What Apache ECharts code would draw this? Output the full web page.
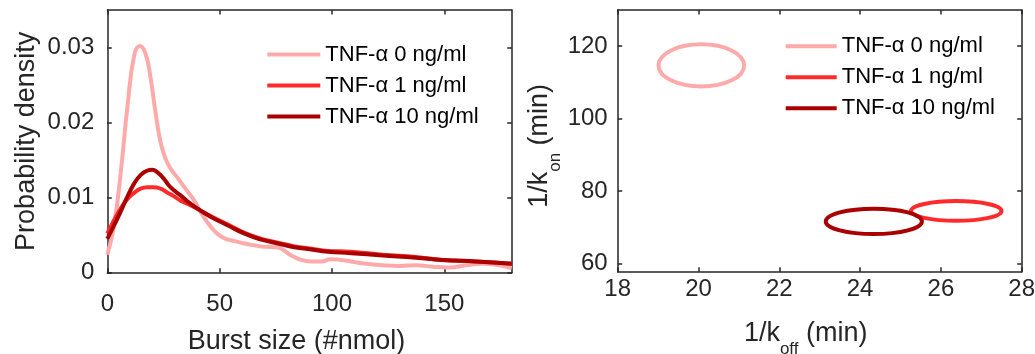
<!DOCTYPE html>
<html>
<head>
<meta charset="utf-8">
<script src="https://cdn.jsdelivr.net/npm/echarts@6/dist/echarts.min.js"></script>
<style>
html,body{margin:0;padding:0;background:#fff;}
#chart{width:1035px;height:354px;}
</style>
</head>
<body>
<div id="chart"></div>
<script>
// ---------- data ----------
const seriesNames = ['TNF-α 0 ng/ml', 'TNF-α 1 ng/ml', 'TNF-α 10 ng/ml'];

// Left panel: probability density vs burst size
const burstSize0 = [0, 3, 6, 9, 12, 14.5, 17, 19.2, 21.5, 23.7, 25.9, 28.1, 31.1, 34.8, 38.5, 41.9, 46.4, 50.8, 56.7, 62.6, 68.6, 74.5, 77.4, 81.9, 86.3, 90.8, 95.2, 99.6, 104.1, 108.5, 115.2, 122.6, 130, 137.4, 144.8, 152.2, 159.6, 167, 174.4, 180];
const density0 = [0.0024, 0.0063, 0.0134, 0.0222, 0.029, 0.0302, 0.0292, 0.0261, 0.0213, 0.0174, 0.0152, 0.0139, 0.0127, 0.0112, 0.0097, 0.0079, 0.006, 0.0048, 0.0042, 0.0038, 0.0035, 0.0034, 0.0032, 0.0023, 0.0017, 0.0015, 0.0015, 0.0018, 0.0017, 0.0015, 0.0012, 0.001, 0.0009, 0.001, 0.0008, 0.0007, 0.001, 0.0012, 0.001, 0.0006];

const burstSize1 = [0, 3, 5.9, 8.9, 11.8, 14.8, 17.8, 20.7, 23.7, 26.6, 29.6, 32.6, 37, 41.4, 46.4, 53.7, 61.1, 68.6, 75.9, 83.3, 90.8, 98.1, 108.5, 122.6, 137.4, 149.2, 164, 180];
const density1 = [0.0052, 0.007, 0.0085, 0.0098, 0.0106, 0.0112, 0.0114, 0.0114, 0.0112, 0.0107, 0.0102, 0.0096, 0.009, 0.0083, 0.0075, 0.0064, 0.0053, 0.0045, 0.004, 0.0035, 0.0032, 0.0029, 0.0028, 0.0024, 0.0021, 0.0017, 0.0015, 0.0012];

const burstSize10 = [0, 3, 5.9, 8.9, 11.8, 14.8, 17.8, 20, 22.2, 25.2, 28.1, 32.6, 37, 41.4, 46.4, 53.7, 61.1, 68.6, 75.9, 83.3, 90.8, 98.1, 108.5, 122.6, 137.4, 149.2, 164, 180];
const density10 = [0.0045, 0.0063, 0.0081, 0.0101, 0.0118, 0.013, 0.0136, 0.0137, 0.0134, 0.0125, 0.0114, 0.0103, 0.0092, 0.0083, 0.0074, 0.0063, 0.0052, 0.0044, 0.0039, 0.0034, 0.0031, 0.0028, 0.0026, 0.0023, 0.002, 0.0017, 0.0015, 0.0012];

// Right panel: confidence ellipses (centre and half-axes, in data units)
const koffCenter = [20.07, 26.38, 24.34];
const konCenter  = [114.7, 74.5, 71.6];
const koffRadius = [1.06, 1.12, 1.19];
const konRadius  = [5.84, 2.72, 3.5];

// Tick values / labels
const xTicksLeft  = [0, 50, 100, 150];
const yTicksLeft  = [0, 0.01, 0.02, 0.03];
const yTickLabelsLeft = ['0', '0.01', '0.02', '0.03'];
const xTicksRight = [18, 20, 22, 24, 26, 28];
const yTicksRight = [60, 80, 100, 120];

// ---------- styling ----------
const colors = ['#FFAAAA', '#FF2B2B', '#AA0000'];
const axisColor = '#262626';
const FONT = 'Liberation Sans, Arial, Helvetica, sans-serif';

function pairs(xs, ys) { return xs.map((x, i) => [x, ys[i]]); }

function mkAxis(opts) {
  const base = {
    axisLine: { show: true, onZero: false, lineStyle: { color: axisColor, width: 1.5 } },
    axisTick: { show: true, inside: true, length: 4.5, lineStyle: { color: axisColor, width: 1.5 } },
    splitLine: { show: false },
    axisLabel: { show: true, color: axisColor, fontSize: 24, fontFamily: FONT },
    nameTextStyle: { color: axisColor, fontSize: 27, fontFamily: FONT },
    nameLocation: 'middle'
  };
  const out = Object.assign({}, base, opts);
  if (opts.ticks) {
    out.axisTick = Object.assign({}, base.axisTick, { customValues: opts.ticks });
    out.axisLabel = Object.assign({}, base.axisLabel, opts.axisLabel || {}, { customValues: opts.ticks });
    if (opts.mirror) out.axisLabel.show = false;
    delete out.ticks;
  }
  delete out.mirror;
  return out;
}

const chart = echarts.init(document.getElementById('chart'), null, { renderer: 'canvas' });

const richSub = {
  n: { fontSize: 27, lineHeight: 30, verticalAlign: 'top', color: axisColor, fontFamily: FONT },
  s: { fontSize: 17, lineHeight: 18, verticalAlign: 'top', padding: [21, 0, 0, 0], color: axisColor, fontFamily: FONT }
};

const option = {
  animation: false,
  backgroundColor: '#ffffff',
  textStyle: { fontFamily: FONT },
  grid: [
    { left: 107.3, top: 10, width: 404.4, height: 262.7, containLabel: false, outerBoundsMode: 'none' },
    { left: 617.7, top: 10, width: 404, height: 261.7, containLabel: false, outerBoundsMode: 'none' }
  ],
  legend: [
    {
      data: seriesNames, orient: 'vertical', left: 267.3, top: 43.5, padding: 0,
      icon: 'rect', itemWidth: 53, itemHeight: 4, itemGap: 9, selectedMode: false,
      textStyle: { fontSize: 22, color: '#000', fontFamily: FONT }
    },
    {
      data: seriesNames, orient: 'vertical', left: 785.7, top: 35.3, padding: 0,
      icon: 'rect', itemWidth: 51, itemHeight: 4, itemGap: 9, selectedMode: false,
      textStyle: { fontSize: 22, color: '#000', fontFamily: FONT }
    }
  ],
  xAxis: [
    mkAxis({ gridIndex: 0, type: 'value', min: 0, max: 180, position: 'bottom', ticks: xTicksLeft,
      axisLabel: { margin: 20 },
      name: 'Burst size (#nmol)', nameGap: 55,
      nameTextStyle: { color: axisColor, fontSize: 27, fontFamily: FONT, padding: [0, 26, 0, 0] } }),
    mkAxis({ gridIndex: 0, type: 'value', min: 0, max: 180, position: 'top', ticks: xTicksLeft, mirror: true }),
    mkAxis({ gridIndex: 1, type: 'value', min: 18, max: 28, position: 'bottom', ticks: xTicksRight,
      axisLabel: { margin: 6 },
      name: '{n|1/k}{s|off}{n| (min)}', nameGap: 48,
      nameTextStyle: { color: axisColor, fontSize: 27, fontFamily: FONT, padding: [0, 28, 0, 0], rich: richSub } }),
    mkAxis({ gridIndex: 1, type: 'value', min: 18, max: 28, position: 'top', ticks: xTicksRight, mirror: true })
  ],
  yAxis: [
    mkAxis({ gridIndex: 0, type: 'value', min: 0, max: 0.035, position: 'left', ticks: yTicksLeft,
      axisLabel: { margin: 13, formatter: (v) => { const i = yTicksLeft.indexOf(v); return i >= 0 ? yTickLabelsLeft[i] : ''; } },
      name: 'Probability density', nameGap: 67 }),
    mkAxis({ gridIndex: 0, type: 'value', min: 0, max: 0.035, position: 'right', ticks: yTicksLeft, mirror: true }),
    mkAxis({ gridIndex: 1, type: 'value', min: 57.7, max: 130, position: 'left', ticks: yTicksRight,
      axisLabel: { margin: 10 },
      name: '{n|1/k}{s|on}{n| (min)}', nameGap: 47,
      nameTextStyle: { color: axisColor, fontSize: 27, fontFamily: FONT, padding: [0, 10, 0, 0], rich: richSub } }),
    mkAxis({ gridIndex: 1, type: 'value', min: 57.7, max: 130, position: 'right', ticks: yTicksRight, mirror: true })
  ],
  series: [
    { name: seriesNames[0], type: 'line', xAxisIndex: 0, yAxisIndex: 0, data: pairs(burstSize0, density0),
      smooth: 0.5, showSymbol: false, symbol: 'none', lineStyle: { color: colors[0], width: 4 }, itemStyle: { color: colors[0] } },
    { name: seriesNames[1], type: 'line', xAxisIndex: 0, yAxisIndex: 0, data: pairs(burstSize1, density1),
      smooth: 0.5, showSymbol: false, symbol: 'none', lineStyle: { color: colors[1], width: 4 }, itemStyle: { color: colors[1] } },
    { name: seriesNames[2], type: 'line', xAxisIndex: 0, yAxisIndex: 0, data: pairs(burstSize10, density10),
      smooth: 0.5, showSymbol: false, symbol: 'none', lineStyle: { color: colors[2], width: 4 }, itemStyle: { color: colors[2] } }
  ].concat(seriesNames.map((nm, i) => ({
    name: nm, type: 'custom', xAxisIndex: 2, yAxisIndex: 2,
    itemStyle: { color: colors[i] },
    encode: { x: 0, y: 1 },
    data: [[koffCenter[i], konCenter[i], koffRadius[i], konRadius[i]]],
    renderItem: function (params, api) {
      const c = api.coord([api.value(0), api.value(1)]);
      const s = api.size([api.value(2), api.value(3)]);
      return {
        type: 'ellipse',
        shape: { cx: c[0], cy: c[1], rx: s[0], ry: s[1] },
        style: { fill: 'none', stroke: colors[i], lineWidth: 4 }
      };
    }
  })))
};

chart.setOption(option);
</script>
</body>
</html>
